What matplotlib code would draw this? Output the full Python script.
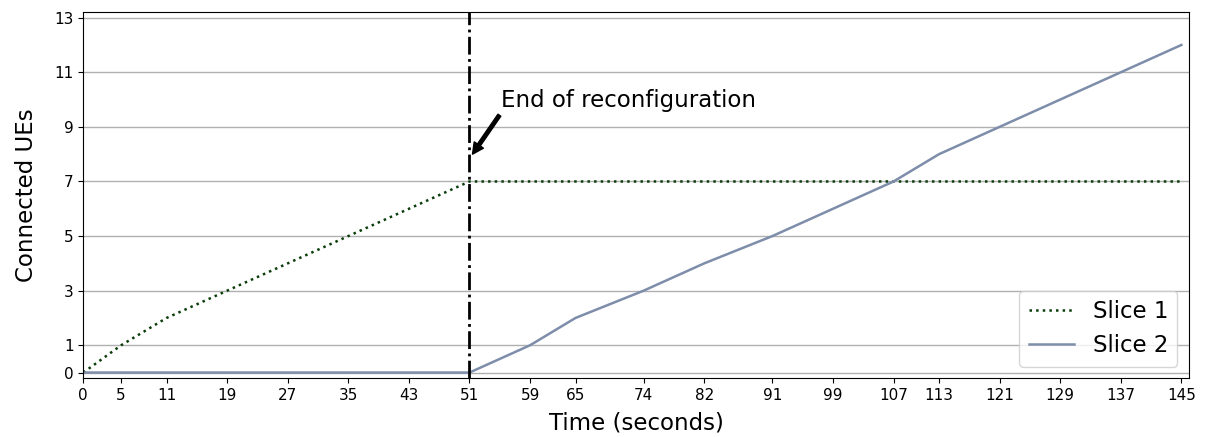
import matplotlib
matplotlib.use("Agg")
import matplotlib.pyplot as plt

# sample times (s) and connected UE counts per slice
time_s = [0, 5, 11, 19, 27, 35, 43, 51, 59, 65, 74, 82, 91, 99, 107, 113, 121, 129, 137, 145]
slice1 = [0, 1, 2, 3, 4, 5, 6, 7, 7, 7, 7, 7, 7, 7, 7, 7, 7, 7, 7, 7]
slice2 = [0, 0, 0, 0, 0, 0, 0, 0, 1, 2, 3, 4, 5, 6, 7, 8, 9, 10, 11, 12]
y_ticks = [0, 1, 3, 5, 7, 9, 11, 13]
reconf_t = 51

fig, ax = plt.subplots(figsize=(12.07, 4.37), dpi=100)
fig.subplots_adjust(left=0.069, right=0.985, top=0.972, bottom=0.135)

ax.plot(time_s, slice1, linestyle=":", color="#0b3d0b", lw=1.8, label="Slice 1")
ax.plot(time_s, slice2, linestyle="-", color="#7d8daa", lw=1.8, label="Slice 2")
ax.axvline(reconf_t, color="black", linestyle="-.", lw=2)

ax.annotate("End of reconfiguration", xy=(reconf_t + 0.4, 8.0), xytext=(55.2, 9.95),
            fontsize=16.5, va="center", ha="left",
            arrowprops=dict(facecolor="black", edgecolor="black", width=2.5,
                            headwidth=8, headlength=8, shrink=0.0),
            )

ax.set_xlim(0, 146)
ax.set_ylim(-0.2, 13.2)
ax.set_xticks(time_s)
ax.set_yticks(y_ticks)
ax.tick_params(labelsize=11)
ax.yaxis.grid(True, color="#b0b0b0", lw=1)
ax.set_axisbelow(True)

ax.set_xlabel("Time (seconds)", fontsize=16.5, labelpad=6)
ax.set_ylabel("Connected UEs", fontsize=16.5, labelpad=12)
ax.legend(loc="lower right", fontsize=16.5)

fig.savefig("out.png", dpi=100)
